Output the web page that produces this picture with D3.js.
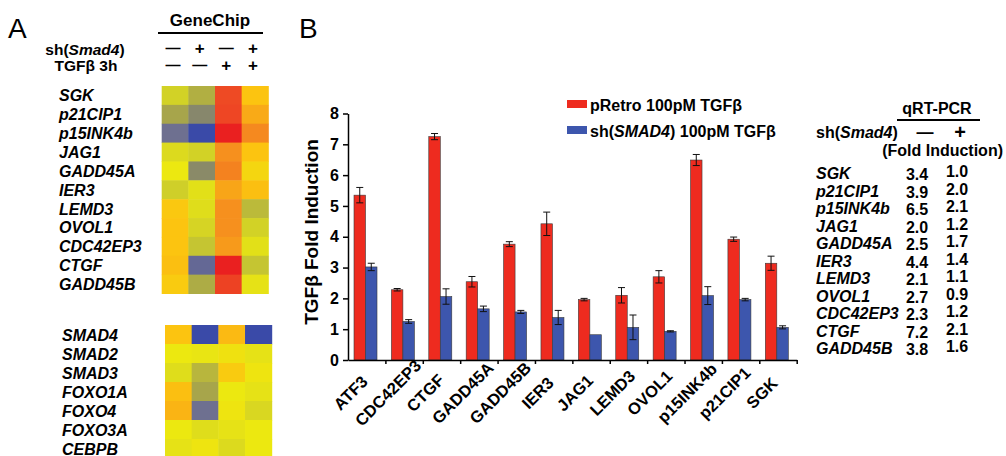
<!DOCTYPE html>
<html>
<head>
<meta charset="utf-8">
<script src="https://cdn.jsdelivr.net/npm/d3@7"></script>
<style>
  body { margin: 0; background: #fff; }
  text { font-family: "Liberation Sans", Arial, sans-serif; fill: #000; }
</style>
</head>
<body>
<div id="chart"></div>
<script>
// bar chart data (panel B)
const genes = ['ATF3', 'CDC42EP3', 'CTGF', 'GADD45A', 'GADD45B', 'IER3', 'JAG1', 'LEMD3', 'OVOL1', 'p15INK4b', 'p21CIP1', 'SGK']
const pRetro = [5.35, 2.28, 7.25, 2.54, 3.76, 4.42, 1.96, 2.1, 2.7, 6.49, 3.92, 3.14]
const pRetroErr = [0.25, 0.04, 0.1, 0.17, 0.08, 0.38, 0.04, 0.25, 0.2, 0.18, 0.07, 0.23]
const shSmad4 = [3.02, 1.25, 2.06, 1.66, 1.56, 1.38, 0.82, 1.06, 0.93, 2.09, 1.96, 1.06]
const shSmad4Err = [0.12, 0.06, 0.25, 0.09, 0.05, 0.23, 0, 0.4, 0.02, 0.29, 0.04, 0.05]
const yTicks = [0, 1, 2, 3, 4, 5, 6, 7, 8]

// heatmap data (panel A), columns: -/-, +/-, -/+, +/+
const heatGenes = ['SGK', 'p21CIP1', 'p15INK4b', 'JAG1', 'GADD45A', 'IER3', 'LEMD3', 'OVOL1', 'CDC42EP3', 'CTGF', 'GADD45B']
const heatValues = [
  [0.2, -0.8, 4, 2],
  [-1.1, -2.1, 4.1, 2.5],
  [-3, -4, 5, 3.1],
  [0.5, 0.2, 3, 2],
  [1, -2, 3.2, 1.5],
  [0.1, 0.7, 2.6, 2.1],
  [1.9, 0.6, 3, -0.5],
  [2, 0.3, 3, 0.2],
  [2, -0.2, 2.8, 0.7],
  [2.1, -3.2, 5, -0.2],
  [1.8, -0.9, 4.2, 0.8]
]
const heatGenes2 = ['SMAD4', 'SMAD2', 'SMAD3', 'FOXO1A', 'FOXO4', 'FOXO3A', 'CEBPB']
const heatValues2 = [
  [2, -4, 2.2, -4],
  [1, 0.9, 1.2, 0.8],
  [0.6, -0.6, 1.8, 1.1],
  [2.1, -1.1, 1, 0.8],
  [2.3, -3, 1.1, 0.4],
  [1, 0.6, 0.8, 1],
  [0.8, 1.1, 0.5, 1]
]
const smadSigns = ['–', '+', '–', '+']
const tgfSigns = ['–', '–', '+', '+']

// qRT-PCR table
const tableGenes = ['SGK', 'p21CIP1', 'p15INK4b', 'JAG1', 'GADD45A', 'IER3', 'LEMD3', 'OVOL1', 'CDC42EP3', 'CTGF', 'GADD45B']
const qpcrCtrl = ['3.4', '3.9', '6.5', '2.0', '2.5', '4.4', '2.1', '2.7', '2.3', '7.2', '3.8']
const qpcrSh = ['1.0', '2.0', '2.1', '1.2', '1.7', '1.4', '1.1', '0.9', '1.2', '2.1', '1.6']

const svg = d3.select('#chart').append('svg')
  .attr('width', 1006)
  .attr('height', 456)

// ---------- panel A ----------
svg.append('text').attr('x', 8).attr('y', 38)
  .attr('font-size', 28).text('A')

const heatColor = d3.scaleLinear()
  .domain([-4, -3, -2, -1, 0, 1, 2, 3, 4, 5])
  .range(['#3a4aa8', '#6e7090', '#8a8a68', '#aaa848', '#cccc2c', '#ece810', '#fcc410', '#f6901e', '#ee4a24', '#ea2020'])
  .clamp(true)

const colX = d3.scaleBand().domain([0, 1, 2, 3]).range([161.7, 268.3])
const colX2 = d3.scaleBand().domain([0, 1, 2, 3]).range([165, 271.7])
const rowY = d3.scaleBand().domain(heatGenes).range([86, 293.5])
const rowY2 = d3.scaleBand().domain(heatGenes2).range([325, 458])

svg.append('text').attr('x', 210).attr('y', 26)
  .attr('text-anchor', 'middle').attr('font-size', 17).attr('font-weight', 'bold')
  .text('GeneChip')
svg.append('line').attr('x1', 158).attr('x2', 263).attr('y1', 33).attr('y2', 33)
  .attr('stroke', '#000').attr('stroke-width', 2)

const shLabel = svg.append('text').attr('x', 85).attr('y', 55)
  .attr('text-anchor', 'middle').attr('font-size', 15.5).attr('font-weight', 'bold')
shLabel.append('tspan').text('sh(')
shLabel.append('tspan').attr('font-style', 'italic').text('Smad4')
shLabel.append('tspan').text(')')
svg.append('text').attr('x', 86).attr('y', 71)
  .attr('text-anchor', 'middle').attr('font-size', 15.5).attr('font-weight', 'bold')
  .text('TGFβ 3h')

// +/- rows above the heatmap
function drawSigns (signs, baseline) {
  svg.append('g')
    .selectAll('text')
    .data(signs)
    .join('text')
    .attr('x', (d, i) => colX(i) + colX.bandwidth() / 2 - 2)
    .attr('y', d => d === '+' ? baseline : baseline - 1)
    .attr('text-anchor', 'middle').attr('font-weight', 'bold')
    .attr('font-size', d => d === '+' ? 17 : 15)
    .text(d => d === '–' ? '—' : d)
}
drawSigns(smadSigns, 54)
drawSigns(tgfSigns, 71)

function drawHeat (names, values, xs, ys, labelX) {
  const g = svg.append('g')
  names.forEach((name, r) => {
    g.selectAll('.c' + r)
      .data(values[r])
      .join('rect')
      .attr('x', (d, i) => xs(i))
      .attr('y', ys(name))
      .attr('width', xs.bandwidth() + 0.5)
      .attr('height', ys.bandwidth() + 0.5)
      .attr('fill', d => heatColor(d))
  })
  g.selectAll('.lab')
    .data(names)
    .join('text')
    .attr('x', labelX)
    .attr('y', d => ys(d) + ys.bandwidth() / 2 + 6)
    .attr('font-size', 16)
    .attr('font-weight', 'bold')
    .attr('font-style', 'italic')
    .text(d => d)
}
drawHeat(heatGenes, heatValues, colX, rowY, 59)
drawHeat(heatGenes2, heatValues2, colX2, rowY2, 62)

// ---------- panel B ----------
svg.append('text').attr('x', 299).attr('y', 38)
  .attr('font-size', 28).text('B')

const xPositionScale = d3.scaleBand()
  .domain(genes)
  .range([348, 796.7])

const seriesScale = d3.scaleBand()
  .domain(['pRetro', 'sh'])
  .range([6, 29])

const yPositionScale = d3.scaleLinear()
  .domain([0, 8])
  .range([360, 113.5])

const barData = genes.map((g, i) => [
  { gene: g, key: 'pRetro', value: pRetro[i], err: pRetroErr[i], color: '#ee2b1f' },
  { gene: g, key: 'sh', value: shSmad4[i], err: shSmad4Err[i], color: '#3d56ad' }
]).flat()

svg.selectAll('.bar')
  .data(barData)
  .join('rect')
  .attr('class', 'bar')
  .attr('x', d => xPositionScale(d.gene) + seriesScale(d.key))
  .attr('y', d => yPositionScale(d.value))
  .attr('width', seriesScale.bandwidth())
  .attr('height', d => yPositionScale(0) - yPositionScale(d.value))
  .attr('fill', d => d.color)
  .attr('stroke', '#3a3a3a')
  .attr('stroke-width', 0.6)

// error bars
const errs = svg.selectAll('.err')
  .data(barData.filter(d => d.err > 0))
  .join('g')
  .attr('class', 'err')
  .attr('transform', d => 'translate(' + (xPositionScale(d.gene) + seriesScale(d.key) + seriesScale.bandwidth() / 2) + ',0)')
  .attr('stroke', '#111')
  .attr('stroke-width', 1)
errs.append('line')
  .attr('y1', d => yPositionScale(d.value + d.err))
  .attr('y2', d => yPositionScale(d.value - d.err))
errs.append('line')
  .attr('x1', -3.5).attr('x2', 3.5)
  .attr('y1', d => yPositionScale(d.value + d.err))
  .attr('y2', d => yPositionScale(d.value + d.err))
errs.append('line')
  .attr('x1', -3.5).attr('x2', 3.5)
  .attr('y1', d => yPositionScale(d.value - d.err))
  .attr('y2', d => yPositionScale(d.value - d.err))

const yAxis = d3.axisLeft(yPositionScale)
  .tickValues(yTicks)
  .tickSize(5)
  .tickSizeOuter(0)
  .tickPadding(4)
svg.append('g')
  .attr('class', 'axis y-axis')
  .attr('transform', 'translate(348,0)')
  .call(yAxis)
  .call(g => g.selectAll('path, line').attr('stroke', '#000').attr('stroke-width', 1.5))
  .call(g => g.selectAll('text')
    .attr('font-size', 16).attr('font-weight', 'bold')
    .attr('font-family', '"Liberation Sans", Arial, sans-serif'))

// x axis: ticks between categories, labels rotated
const boundaryScale = d3.scaleLinear().domain([0, genes.length]).range(xPositionScale.range())
svg.append('g')
  .attr('class', 'axis x-axis')
  .attr('transform', 'translate(0,' + yPositionScale(0) + ')')
  .call(d3.axisBottom(boundaryScale).tickValues(d3.range(1, genes.length + 1)).tickSize(4).tickSizeOuter(0).tickFormat(''))
  .call(g => g.selectAll('path, line').attr('stroke', '#000').attr('stroke-width', 1.5))

svg.selectAll('.xlabel')
  .data(genes)
  .join('text')
  .attr('class', 'xlabel')
  .attr('transform', d => 'translate(' + (xPositionScale(d) + xPositionScale.bandwidth() / 2 - 12) + ',' + (yPositionScale(0) + 37) + ') rotate(-45)')
  .attr('text-anchor', 'middle')
  .attr('font-size', 16.5)
  .attr('font-weight', 'bold')
  .text(d => d)

svg.append('text')
  .attr('transform', 'translate(318,232) rotate(-90)')
  .attr('text-anchor', 'middle')
  .attr('font-size', 19)
  .attr('font-weight', 'bold')
  .text('TGFβ Fold Induction')

// legend
const legend = [
  { color: '#ee2b1f', pre: 'pRetro 100pM TGFβ' },
  { color: '#3d56ad', pre: 'sh(', it: 'SMAD4', post: ') 100pM TGFβ' }
]
const lg = svg.selectAll('.legend')
  .data(legend)
  .join('g')
  .attr('class', 'legend')
  .attr('transform', (d, i) => 'translate(567,' + (100 + i * 26) + ')')
lg.append('rect')
  .attr('width', 20).attr('height', 8)
  .attr('fill', d => d.color)
const lt = lg.append('text')
  .attr('x', 23).attr('y', 11)
  .attr('font-size', 16).attr('font-weight', 'bold')
lt.append('tspan').text(d => d.pre)
lt.append('tspan').attr('font-style', 'italic').text(d => d.it || '')
lt.append('tspan').text(d => d.post || '')

// ---------- qRT-PCR table ----------
svg.append('text').attr('x', 937).attr('y', 114)
  .attr('text-anchor', 'middle').attr('font-size', 16).attr('font-weight', 'bold')
  .text('qRT-PCR')
svg.append('line').attr('x1', 897).attr('x2', 980).attr('y1', 120).attr('y2', 120)
  .attr('stroke', '#000').attr('stroke-width', 2)

const tsh = svg.append('text').attr('x', 816).attr('y', 138)
  .attr('font-size', 16).attr('font-weight', 'bold')
tsh.append('tspan').text('sh(')
tsh.append('tspan').attr('font-style', 'italic').text('Smad4')
tsh.append('tspan').text(')')
svg.append('text').attr('x', 925).attr('y', 138)
  .attr('text-anchor', 'middle').attr('font-size', 17).attr('font-weight', 'bold').text('—')
svg.append('text').attr('x', 960).attr('y', 139)
  .attr('text-anchor', 'middle').attr('font-size', 20).attr('font-weight', 'bold').text('+')
svg.append('text').attr('x', 1003).attr('y', 156)
  .attr('text-anchor', 'end').attr('font-size', 16).attr('font-weight', 'bold')
  .text('(Fold Induction)')

const tableY = d3.scalePoint().domain(tableGenes).range([173.3, 348.3])

svg.selectAll('.tgene')
  .data(tableGenes)
  .join('text')
  .attr('class', 'tgene')
  .attr('x', 816)
  .attr('y', d => tableY(d) + 6)
  .attr('font-size', 16).attr('font-weight', 'bold').attr('font-style', 'italic')
  .text(d => d)

svg.selectAll('.tctrl')
  .data(qpcrCtrl)
  .join('text')
  .attr('class', 'tctrl')
  .attr('x', 917)
  .attr('y', (d, i) => tableY(tableGenes[i]) + 7)
  .attr('text-anchor', 'middle')
  .attr('font-size', 16).attr('font-weight', 'bold')
  .text(d => d)

svg.selectAll('.tsh')
  .data(qpcrSh)
  .join('text')
  .attr('class', 'tsh')
  .attr('x', 957)
  .attr('y', (d, i) => tableY(tableGenes[i]) + 4)
  .attr('text-anchor', 'middle')
  .attr('font-size', 16).attr('font-weight', 'bold')
  .text(d => d)
</script>
</body>
</html>
